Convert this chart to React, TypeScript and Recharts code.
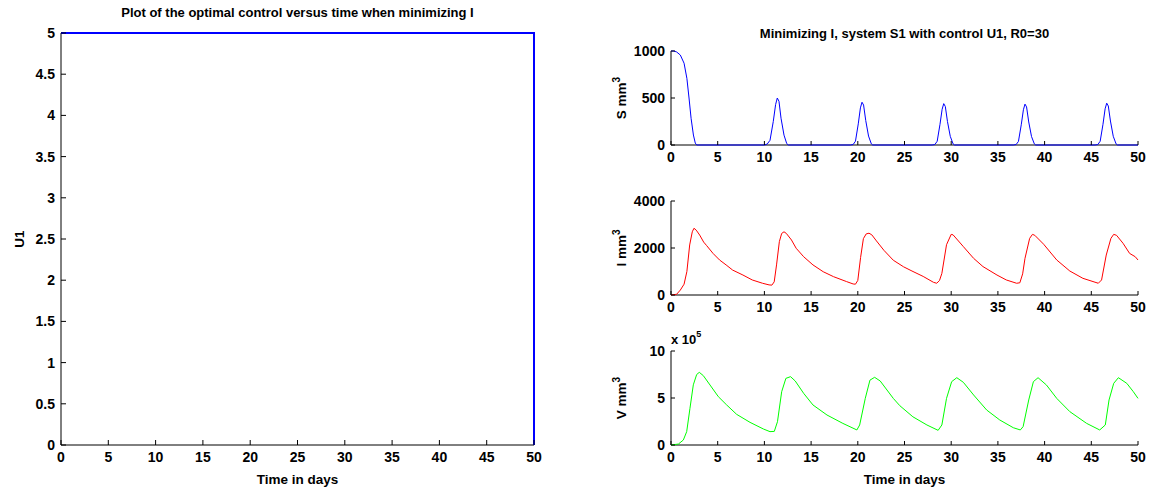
import React from 'react';
import { LineChart, Line, XAxis, YAxis } from 'recharts';

// ---------- data ----------
const timeTicks = [0, 5, 10, 15, 20, 25, 30, 35, 40, 45, 50];
const uTicks = [0, 0.5, 1, 1.5, 2, 2.5, 3, 3.5, 4, 4.5, 5];
const sTicks = [0, 500, 1000];
const iTicks = [0, 2000, 4000];
const vTicks = [0, 5, 10];

const uTime = [0, 50, 50];
const uValues = [5, 5, 0];

const sTime = [0, 0.3, 0.6, 1.0, 1.4, 1.7, 1.93, 2.15, 2.4, 2.6, 2.75,
  10.0, 10.3, 10.6, 10.95, 11.2, 11.38, 11.56, 11.78, 12.1, 12.39, 12.56,
  19.2, 19.5, 19.75, 20.05, 20.28, 20.45, 20.62, 20.85, 21.15, 21.45, 21.6,
  27.95, 28.25, 28.5, 28.8, 29.03, 29.2, 29.37, 29.6, 29.9, 30.2, 30.35,
  36.65, 36.95, 37.2, 37.5, 37.73, 37.9, 38.07, 38.3, 38.6, 38.9, 39.05,
  45.4, 45.7, 45.95, 46.25, 46.48, 46.65, 46.82, 47.05, 47.35, 47.65, 47.8,
  50];
const sValues = [1000, 1000, 990, 957, 870, 709, 500, 284, 106, 20, 0,
  0, 10, 50, 250, 430, 500, 465, 285, 105, 15, 0,
  0, 5, 40, 225, 395, 455, 425, 260, 95, 12, 0,
  0, 5, 40, 220, 380, 440, 410, 250, 92, 12, 0,
  0, 5, 38, 215, 375, 435, 405, 245, 90, 12, 0,
  0, 5, 40, 220, 385, 445, 415, 255, 93, 12, 0,
  0];

const iTime = [0, 0.6, 1.0, 1.4, 1.7, 2.0, 2.28, 2.46, 2.7, 3.07,
  3.5, 3.8, 4.5, 5.2, 5.9, 6.6, 7.7, 8.7, 9.8, 10.5,
  10.8, 11.05, 11.3, 11.6, 11.85, 12.1, 12.35, 12.9, 13.4, 14.2,
  15.2, 16.3, 17.4, 18.8, 19.5, 19.75, 20.0, 20.3, 20.6, 20.9,
  21.2, 21.5, 22.0, 22.8, 23.8, 24.9, 25.8, 27.0, 28.1, 28.45,
  28.75, 29.0, 29.5, 30.0, 30.2, 31.3, 32.4, 33.4, 34.9, 35.9,
  37.0, 37.35, 37.65, 37.9, 38.4, 38.7, 38.95, 39.9, 41.3, 42.7,
  44.1, 45.75, 46.1, 46.6, 47.1, 47.4, 47.7, 48.4, 49.1, 49.7,
  50];
const iValues = [0, 30, 210, 460, 1000, 2130, 2690, 2840, 2760, 2550,
  2250, 2110, 1770, 1490, 1280, 1060, 850, 640, 500, 430,
  420, 560, 1280, 2270, 2620, 2690, 2620, 2340, 1990, 1630,
  1280, 990, 780, 570, 470, 460, 620, 1600, 2400, 2600,
  2630, 2560, 2300, 1900, 1480, 1200, 1020, 790, 540, 500,
  620, 920, 2140, 2580, 2560, 2060, 1560, 1210, 850, 640,
  500, 520, 900, 1560, 2410, 2580, 2540, 2160, 1490, 1020,
  710, 500, 640, 1700, 2410, 2580, 2540, 2200, 1770, 1630,
  1490];

// V values in units of 10^5 mm^3
const vTime = [0, 0.79, 1.32, 1.68, 2.03, 2.39, 2.75, 3.03, 3.46, 4.18,
  5.07, 5.96, 7.03, 8.46, 9.9, 10.6, 11.06, 11.4, 11.85, 12.3,
  12.8, 13.3, 14.2, 15.2, 16.7, 18.4, 19.9, 20.2, 20.8, 21.3,
  21.8, 22.4, 23.8, 24.5, 25.9, 27.4, 28.6, 29.0, 29.5, 30.05,
  30.6, 31.3, 32.4, 33.8, 35.2, 36.65, 37.4, 37.7, 38.3, 38.8,
  39.3, 40.2, 41.3, 42.7, 44.5, 45.9, 46.5, 46.9, 47.4, 47.9,
  48.8, 49.5, 50];
const vValues = [0, 0.1, 0.53, 1.42, 3.9, 6.4, 7.5, 7.73, 7.38, 6.38,
  5.14, 4.26, 3.26, 2.41, 1.7, 1.42, 1.45, 2.48, 5.67, 7.09,
  7.27, 6.81, 5.5, 4.26, 3.19, 2.3, 1.6, 2.13, 4.96, 6.9,
  7.2, 6.81, 4.96, 4.18, 3.0, 2.13, 1.56, 2.13, 4.96, 6.74,
  7.16, 6.67, 5.32, 3.72, 2.66, 1.84, 1.6, 1.95, 4.79, 6.74,
  7.16, 6.38, 4.96, 3.55, 2.3, 1.6, 2.13, 4.79, 6.56, 7.16,
  6.56, 5.67, 4.96];

// ---------- helpers ----------
const W = 1158;
const H = 489;
const FONT = '"Liberation Sans", Arial, Helvetica, sans-serif';
const TICK_FS = 14;
const LABEL_FS = 13.5;
const TITLE_FS = 13;
const YW = 50;
const XH = 30;

const zip = (t: number[], v: number[]) => t.map((x, i) => ({ t: x, y: v[i] }));

const fmt = (v: number) => String(v);

const bottomTick = (len: number) => (props: any) => {
  const { x, y, payload } = props;
  return (
    <g>
      <line x1={x} y1={y} x2={x} y2={y - len} stroke="#000" strokeWidth={1} />
      <text x={x} y={y + 17} textAnchor="middle" fontFamily={FONT} fontWeight="bold" fontSize={TICK_FS} fill="#000">
        {fmt(payload.value)}
      </text>
    </g>
  );
};
const topTick = (len: number) => (props: any) => {
  const { x, y } = props;
  return <line x1={x} y1={y} x2={x} y2={y + len} stroke="#000" strokeWidth={1} />;
};
const leftTick = (len: number) => (props: any) => {
  const { x, y, payload } = props;
  return (
    <g>
      <line x1={x} y1={y} x2={x + len} y2={y} stroke="#000" strokeWidth={1} />
      <text x={x - 6} y={y + 5} textAnchor="end" fontFamily={FONT} fontWeight="bold" fontSize={TICK_FS} fill="#000">
        {fmt(payload.value)}
      </text>
    </g>
  );
};
const rightTick = (len: number) => (props: any) => {
  const { x, y } = props;
  return <line x1={x} y1={y} x2={x - len} y2={y} stroke="#000" strokeWidth={1} />;
};

type Box = { l: number; t: number; r: number; b: number };

function Panel(props: {
  box: Box;
  data: { t: number; y: number }[];
  color: string;
  strokeWidth: number;
  yDomain: [number, number];
  yTicks: number[];
  tickLen: number;
  children?: React.ReactNode;
}) {
  const { box, data, color, strokeWidth, yDomain, yTicks, tickLen, children } = props;
  const margin = { left: box.l - YW, top: box.t, right: W - box.r, bottom: H - box.b - XH };
  return (
    <div style={{ position: 'absolute', left: 0, top: 0 }}>
      <LineChart width={W} height={H} data={data} margin={margin}>
        <XAxis xAxisId="b" dataKey="t" type="number" domain={[0, 50]} ticks={timeTicks} interval={0}
          height={XH} tickLine={false} tickSize={0} tickMargin={0}
          axisLine={{ stroke: '#000', strokeWidth: 1 }} tick={bottomTick(tickLen)} />
        <XAxis xAxisId="t" orientation="top" dataKey="t" type="number" domain={[0, 50]} ticks={timeTicks} interval={0}
          allowDataOverflow height={0} tickLine={false} tickSize={0} tickMargin={0}
          axisLine={{ stroke: '#000', strokeWidth: 1 }} tick={topTick(tickLen)} />
        <YAxis yAxisId="l" type="number" domain={yDomain} ticks={yTicks} interval={0}
          width={YW} tickLine={false} tickSize={0} tickMargin={0}
          axisLine={{ stroke: '#000', strokeWidth: 1 }} tick={leftTick(tickLen)} />
        <YAxis yAxisId="r" orientation="right" type="number" domain={yDomain} ticks={yTicks} interval={0}
          allowDataOverflow width={0} tickLine={false} tickSize={0} tickMargin={0}
          axisLine={{ stroke: '#000', strokeWidth: 1 }} tick={rightTick(tickLen)} />
        <Line xAxisId="b" yAxisId="l" dataKey="y" type="linear" stroke={color} strokeWidth={strokeWidth}
          dot={false} activeDot={false} isAnimationActive={false} zIndex={1000} />
        {children}
      </LineChart>
    </div>
  );
}

const txt = { fontFamily: FONT, fontWeight: 'bold' as const, fill: '#000' };

const LEFT: Box = { l: 61, t: 33, r: 534, b: 445 };
const S_BOX: Box = { l: 671, t: 51, r: 1138, b: 145 };
const I_BOX: Box = { l: 671, t: 201, r: 1138, b: 295 };
const V_BOX: Box = { l: 671, t: 351, r: 1138, b: 445 };

export default function App() {
  return (
    <div style={{ position: 'absolute', left: 0, top: 0, width: W, height: H, background: '#fff', overflow: 'hidden' }}>
      <Panel box={LEFT} data={zip(uTime, uValues)} color="#0000ff" strokeWidth={2} yDomain={[0, 5]} yTicks={uTicks} tickLen={5}>
        <text x={297.5} y={17} textAnchor="middle" fontSize={TITLE_FS} {...txt}>
          Plot of the optimal control versus time when minimizing I
        </text>
        <text x={297.5} y={484} textAnchor="middle" fontSize={LABEL_FS} {...txt}>Time in days</text>
        <text transform="translate(24,239) rotate(-90)" textAnchor="middle" fontSize={LABEL_FS} {...txt}>U1</text>
      </Panel>
      <Panel box={S_BOX} data={zip(sTime, sValues)} color="#0000ff" strokeWidth={1} yDomain={[0, 1000]} yTicks={sTicks} tickLen={4}>
        <text x={904.5} y={38} textAnchor="middle" fontSize={TITLE_FS} {...txt}>
          Minimizing I, system S1 with control U1, R0=30
        </text>
        <text transform="translate(626,98) rotate(-90)" textAnchor="middle" fontSize={LABEL_FS} {...txt}>
          S mm<tspan dy={-6} fontSize={10}>3</tspan>
        </text>
      </Panel>
      <Panel box={I_BOX} data={zip(iTime, iValues)} color="#ff0000" strokeWidth={1} yDomain={[0, 4000]} yTicks={iTicks} tickLen={4}>
        <text transform="translate(626,248) rotate(-90)" textAnchor="middle" fontSize={LABEL_FS} {...txt}>
          I mm<tspan dy={-6} fontSize={10}>3</tspan>
        </text>
      </Panel>
      <Panel box={V_BOX} data={zip(vTime, vValues)} color="#00ff00" strokeWidth={1} yDomain={[0, 10]} yTicks={vTicks} tickLen={4}>
        <text x={671} y={344} textAnchor="start" fontSize={TICK_FS - 1} {...txt}>
          x 10<tspan dy={-7} fontSize={9}>5</tspan>
        </text>
        <text transform="translate(626,398) rotate(-90)" textAnchor="middle" fontSize={LABEL_FS} {...txt}>
          V mm<tspan dy={-6} fontSize={10}>3</tspan>
        </text>
        <text x={904.5} y={484} textAnchor="middle" fontSize={LABEL_FS} {...txt}>Time in days</text>
      </Panel>
    </div>
  );
}
